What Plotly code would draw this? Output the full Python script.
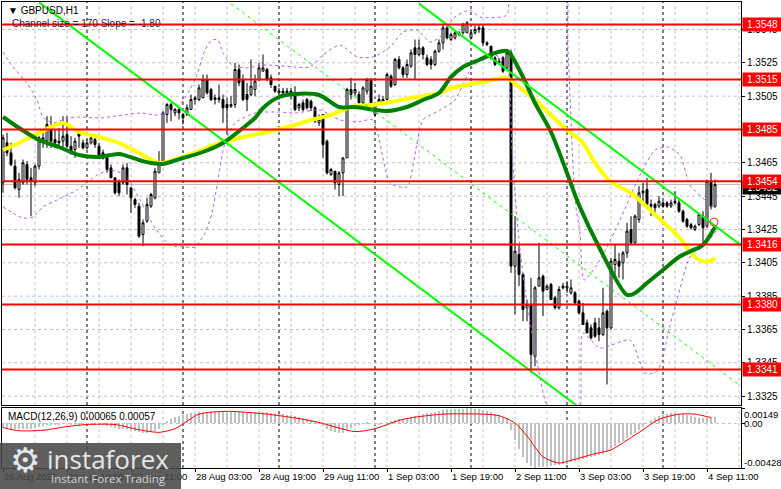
import plotly.graph_objects as go

# ---------------- data ----------------
bar_index = list(range(179))  # hourly bars from 26 Aug 03:00 to 4 Sep 13:00

opens = [1.3453, 1.3477, 1.3471, 1.3463, 1.3449, 1.3453, 1.3464, 1.3456, 1.3453, 1.3463,
 1.3478, 1.3478, 1.3487, 1.3479, 1.3477, 1.3478, 1.3482, 1.3475, 1.3473, 1.3483,
 1.3477, 1.3474, 1.3477, 1.3479, 1.3475, 1.3471, 1.3468, 1.3462, 1.3456, 1.3454,
 1.3453, 1.3462, 1.3450, 1.3443, 1.3439, 1.3422, 1.3430, 1.3439, 1.3444, 1.3459,
 1.3466, 1.3494, 1.3500, 1.3495, 1.3497, 1.3494, 1.3494, 1.3497, 1.3503, 1.3503,
 1.3504, 1.3515, 1.3509, 1.3504, 1.3504, 1.3503, 1.3500, 1.3499, 1.3500, 1.3521,
 1.3515, 1.3506, 1.3506, 1.3509, 1.3515, 1.3520, 1.3521, 1.3516, 1.3511, 1.3507,
 1.3508, 1.3507, 1.3508, 1.3507, 1.3498, 1.3501, 1.3503, 1.3502, 1.3498, 1.3489,
 1.3494, 1.3478, 1.3458, 1.3460, 1.3452, 1.3459, 1.3468, 1.3509, 1.3507, 1.3506,
 1.3501, 1.3508, 1.3515, 1.3494, 1.3501, 1.3501, 1.3503, 1.3517, 1.3512, 1.3527,
 1.3522, 1.3518, 1.3523, 1.3534, 1.3530, 1.3534, 1.3528, 1.3527, 1.3524, 1.3532,
 1.3537, 1.3546, 1.3539, 1.3540, 1.3542, 1.3543, 1.3543, 1.3540, 1.3543, 1.3545,
 1.3546, 1.3536, 1.3535, 1.3528, 1.3525, 1.3528, 1.3522, 1.3531, 1.3403, 1.3410,
 1.3398, 1.3378, 1.3380, 1.3349, 1.3391, 1.3397, 1.3389, 1.3392, 1.3384, 1.3378,
 1.3390, 1.3390, 1.3387, 1.3387, 1.3382, 1.3375, 1.3369, 1.3366, 1.3369, 1.3366,
 1.3362, 1.3376, 1.3366, 1.3404, 1.3406, 1.3405, 1.3411, 1.3425, 1.3417, 1.3431,
 1.3447, 1.3449, 1.3439, 1.3440, 1.3439, 1.3441, 1.3441, 1.3439, 1.3442, 1.3441,
 1.3436, 1.3431, 1.3428, 1.3425, 1.3428, 1.3433, 1.3427, 1.3454, 1.3439]

highs = [1.3482, 1.3483, 1.3477, 1.3467, 1.3459, 1.3467, 1.3466, 1.3462, 1.3464, 1.3481,
 1.3483, 1.3493, 1.3493, 1.3485, 1.3486, 1.3493, 1.3493, 1.3481, 1.3480, 1.3485,
 1.3479, 1.3479, 1.3482, 1.3480, 1.3477, 1.3473, 1.3470, 1.3464, 1.3456, 1.3455,
 1.3464, 1.3465, 1.3450, 1.3444, 1.3441, 1.3431, 1.3444, 1.3447, 1.3462, 1.3472,
 1.3496, 1.3501, 1.3501, 1.3498, 1.3498, 1.3495, 1.3500, 1.3506, 1.3505, 1.3512,
 1.3518, 1.3518, 1.3510, 1.3506, 1.3512, 1.3506, 1.3504, 1.3505, 1.3525, 1.3524,
 1.3518, 1.3513, 1.3527, 1.3518, 1.3525, 1.3530, 1.3522, 1.3518, 1.3511, 1.3510,
 1.3510, 1.3510, 1.3510, 1.3511, 1.3501, 1.3503, 1.3504, 1.3503, 1.3499, 1.3494,
 1.3494, 1.3479, 1.3462, 1.3460, 1.3460, 1.3468, 1.3510, 1.3516, 1.3513, 1.3508,
 1.3511, 1.3516, 1.3516, 1.3501, 1.3506, 1.3505, 1.3519, 1.3518, 1.3528, 1.3529,
 1.3523, 1.3527, 1.3533, 1.3539, 1.3539, 1.3535, 1.3530, 1.3529, 1.3533, 1.3539,
 1.3548, 1.3547, 1.3543, 1.3544, 1.3544, 1.3549, 1.3550, 1.3545, 1.3548, 1.3548,
 1.3548, 1.3538, 1.3535, 1.3529, 1.3528, 1.3529, 1.3533, 1.3533, 1.3433, 1.3416,
 1.3399, 1.3383, 1.3396, 1.3391, 1.3417, 1.3398, 1.3392, 1.3393, 1.3385, 1.3391,
 1.3393, 1.3394, 1.3395, 1.3388, 1.3383, 1.3381, 1.3371, 1.3368, 1.3372, 1.3372,
 1.3390, 1.3377, 1.3408, 1.3416, 1.3411, 1.3412, 1.3429, 1.3433, 1.3434, 1.3451,
 1.3453, 1.3456, 1.3443, 1.3441, 1.3445, 1.3442, 1.3442, 1.3443, 1.3448, 1.3443,
 1.3437, 1.3432, 1.3429, 1.3428, 1.3435, 1.3436, 1.3455, 1.3459, 1.3455]

lows = [1.3447, 1.3469, 1.3463, 1.3449, 1.3444, 1.3452, 1.3452, 1.3433, 1.3451, 1.3461,
 1.3474, 1.3474, 1.3474, 1.3474, 1.3474, 1.3474, 1.3474, 1.3470, 1.3468, 1.3474,
 1.3473, 1.3473, 1.3476, 1.3474, 1.3468, 1.3467, 1.3459, 1.3456, 1.3446, 1.3445,
 1.3452, 1.3446, 1.3435, 1.3438, 1.3420, 1.3415, 1.3429, 1.3438, 1.3443, 1.3459,
 1.3465, 1.3489, 1.3490, 1.3493, 1.3491, 1.3488, 1.3493, 1.3497, 1.3500, 1.3502,
 1.3504, 1.3506, 1.3502, 1.3500, 1.3501, 1.3489, 1.3482, 1.3498, 1.3498, 1.3511,
 1.3502, 1.3496, 1.3505, 1.3505, 1.3514, 1.3520, 1.3514, 1.3510, 1.3507, 1.3503,
 1.3505, 1.3505, 1.3503, 1.3496, 1.3496, 1.3496, 1.3497, 1.3496, 1.3489, 1.3487,
 1.3468, 1.3458, 1.3457, 1.3449, 1.3445, 1.3445, 1.3468, 1.3503, 1.3505, 1.3501,
 1.3500, 1.3506, 1.3501, 1.3493, 1.3501, 1.3500, 1.3502, 1.3510, 1.3511, 1.3521,
 1.3516, 1.3516, 1.3522, 1.3515, 1.3529, 1.3527, 1.3523, 1.3521, 1.3523, 1.3531,
 1.3533, 1.3539, 1.3538, 1.3539, 1.3541, 1.3542, 1.3543, 1.3539, 1.3542, 1.3543,
 1.3535, 1.3535, 1.3527, 1.3523, 1.3524, 1.3519, 1.3521, 1.3399, 1.3374, 1.3391,
 1.3370, 1.3370, 1.3339, 1.3343, 1.3391, 1.3373, 1.3389, 1.3383, 1.3377, 1.3377,
 1.3389, 1.3387, 1.3386, 1.3380, 1.3374, 1.3368, 1.3363, 1.3359, 1.3360, 1.3358,
 1.3361, 1.3332, 1.3365, 1.3396, 1.3396, 1.3395, 1.3408, 1.3416, 1.3416, 1.3429,
 1.3441, 1.3440, 1.3433, 1.3433, 1.3438, 1.3438, 1.3438, 1.3438, 1.3440, 1.3435,
 1.3429, 1.3426, 1.3425, 1.3424, 1.3427, 1.3415, 1.3426, 1.3437, 1.3438]

closes = [1.3480, 1.3471, 1.3464, 1.3450, 1.3455, 1.3465, 1.3455, 1.3454, 1.3463, 1.3480,
 1.3480, 1.3488, 1.3478, 1.3477, 1.3478, 1.3481, 1.3475, 1.3471, 1.3478, 1.3481,
 1.3474, 1.3477, 1.3480, 1.3476, 1.3468, 1.3468, 1.3461, 1.3456, 1.3447, 1.3447,
 1.3462, 1.3452, 1.3444, 1.3440, 1.3421, 1.3429, 1.3440, 1.3446, 1.3460, 1.3465,
 1.3495, 1.3500, 1.3497, 1.3497, 1.3495, 1.3492, 1.3498, 1.3503, 1.3504, 1.3510,
 1.3515, 1.3507, 1.3503, 1.3503, 1.3503, 1.3498, 1.3498, 1.3500, 1.3521, 1.3513,
 1.3503, 1.3503, 1.3511, 1.3514, 1.3522, 1.3522, 1.3515, 1.3512, 1.3508, 1.3508,
 1.3507, 1.3508, 1.3507, 1.3497, 1.3500, 1.3497, 1.3498, 1.3498, 1.3490, 1.3491,
 1.3476, 1.3459, 1.3461, 1.3453, 1.3459, 1.3468, 1.3509, 1.3506, 1.3509, 1.3501,
 1.3510, 1.3515, 1.3501, 1.3500, 1.3503, 1.3503, 1.3518, 1.3511, 1.3527, 1.3522,
 1.3518, 1.3524, 1.3531, 1.3530, 1.3534, 1.3530, 1.3524, 1.3524, 1.3532, 1.3537,
 1.3546, 1.3540, 1.3542, 1.3543, 1.3543, 1.3548, 1.3549, 1.3543, 1.3545, 1.3546,
 1.3537, 1.3537, 1.3528, 1.3524, 1.3526, 1.3520, 1.3531, 1.3403, 1.3412, 1.3398,
 1.3377, 1.3380, 1.3350, 1.3390, 1.3396, 1.3388, 1.3391, 1.3383, 1.3378, 1.3389,
 1.3391, 1.3391, 1.3390, 1.3381, 1.3375, 1.3368, 1.3363, 1.3360, 1.3361, 1.3362,
 1.3375, 1.3366, 1.3406, 1.3407, 1.3403, 1.3411, 1.3424, 1.3417, 1.3433, 1.3447,
 1.3448, 1.3440, 1.3440, 1.3438, 1.3442, 1.3439, 1.3439, 1.3441, 1.3441, 1.3436,
 1.3430, 1.3427, 1.3426, 1.3427, 1.3434, 1.3426, 1.3454, 1.3439, 1.3452]

# moving averages (bar index, price)
ma_green_i = [0, 4, 9, 14, 19, 24, 29, 34, 37, 40, 45, 50, 55, 60, 63, 65, 69, 73, 79, 84, 88, 93, 96,
              101, 105, 109, 112, 115, 119, 123, 126, 127, 130, 133, 137, 141, 144, 149, 156, 158,
              161, 165, 169, 172, 175, 178]
ma_green_p = [1.34925, 1.34859, 1.34787, 1.34745, 1.34697, 1.34685, 1.34703, 1.34667, 1.34649, 1.34643,
              1.34679, 1.34715, 1.34769, 1.34859, 1.34919, 1.34979, 1.35045, 1.35063, 1.35057, 1.34985,
              1.34985, 1.34967, 1.34961, 1.34985, 1.35027, 1.35069, 1.35165, 1.35225, 1.35267, 1.35309,
              1.35321, 1.35297, 1.35165, 1.35009, 1.34835, 1.34589, 1.34397, 1.34145, 1.33857, 1.33869,
              1.33929, 1.34007, 1.34085, 1.34121, 1.34157, 1.34265]

ma_yellow_i = [0, 4, 9, 15, 19, 24, 29, 34, 39, 45, 55, 60, 65, 73, 77, 82, 87, 92, 97, 102, 109, 112,
               116, 120, 126, 129, 133, 141, 145, 148, 152, 157, 161, 165, 169, 173, 176, 178]
ma_yellow_p = [1.34727, 1.34769, 1.34829, 1.34889, 1.34835, 1.34805, 1.34769, 1.34709, 1.34649, 1.34685,
               1.34775, 1.34805, 1.34829, 1.34877, 1.34907, 1.34937, 1.34985, 1.34997, 1.35015, 1.35039,
               1.35069, 1.35099, 1.35117, 1.35135, 1.35159, 1.35105, 1.35027, 1.34847, 1.34769, 1.34649,
               1.34535, 1.34469, 1.34385, 1.34295, 1.34205, 1.34085, 1.34055, 1.34079]

band_up_i = [0, 2.5, 6, 8.5, 10, 12.5, 16, 19.25, 24.25, 30, 34.25, 38.75, 43.75, 48, 50.5, 52.25, 53.75,
             55, 57.25, 60.5, 65.5, 73, 76.75, 80, 84.25, 88.5, 92.5, 96.75, 100, 103.5, 106.75, 109.25,
             113, 116.75, 119.25, 126, 126.75, 140, 141.25, 143, 144.25, 145.25, 149.25, 154.25, 159.25,
             163, 166.25, 169.25, 171.75, 175.5, 178.5]
band_up_p = [1.35315, 1.35225, 1.35129, 1.35027, 1.34925, 1.34889, 1.34919, 1.34925, 1.34919, 1.34937,
             1.34949, 1.34937, 1.34985, 1.35147, 1.35327, 1.35387, 1.35387, 1.35309, 1.35237, 1.35219,
             1.35237, 1.35225, 1.35225, 1.35297, 1.35357, 1.35285, 1.35285, 1.35345, 1.35435, 1.35447,
             1.35375, 1.35405, 1.35525, 1.35567, 1.35525, 1.35537, 1.35807, 1.35807, 1.35327, 1.34427,
             1.34229, 1.33947, 1.34067, 1.34307, 1.34577, 1.34727, 1.34745, 1.34697, 1.34517, 1.34427,
             1.34367]

band_lo_i = [0, 2.5, 5, 7.5, 10, 13.5, 18.5, 23.5, 26.75, 30.5, 34.25, 38, 41.75, 45.5, 48, 50.5, 52.25,
             53.75, 55.5, 58, 63, 68.75, 73, 79.25, 84.25, 88.5, 92.5, 96.75, 101, 103.5, 105, 109.25,
             113, 116.75, 119.25, 123, 126, 127.25, 128.75, 130.5, 133, 135.5, 138, 143.75, 145, 149.25,
             156.75, 160.5, 163, 164.75, 166.25, 168.5, 171.75, 175.5, 178.5]
band_lo_p = [1.34385, 1.34349, 1.34319, 1.34325, 1.34385, 1.34427, 1.34487, 1.34577, 1.34607, 1.34577,
             1.34427, 1.34259, 1.34157, 1.34145, 1.34145, 1.34229, 1.34349, 1.34547, 1.34769, 1.34889,
             1.34949, 1.34955, 1.34949, 1.34967, 1.34907, 1.34895, 1.34907, 1.34529, 1.34505, 1.34769,
             1.34907, 1.34967, 1.35027, 1.35207, 1.35267, 1.35297, 1.35237, 1.34727, 1.34247, 1.33887,
             1.33527, 1.33227, 1.33107, 1.33107, 1.33629, 1.33539, 1.33587, 1.33389, 1.33389, 1.33455,
             1.33629, 1.33827, 1.34085, 1.34157, 1.34247]

# regression channel (two anchor points each)
chan_upper_i = [104, 185]
chan_upper_p = [1.35605, 1.34147]
chan_mid_i = [57, 185]
chan_mid_p = [1.35605, 1.33301]
chan_lower_i = [9, 145]
chan_lower_p = [1.35613, 1.33165]

# horizontal levels
levels = [1.3548, 1.3515, 1.3485, 1.3454, 1.3416, 1.3380, 1.3341]
bid_price = 1.3452
price_ticks = [1.3325, 1.3345, 1.3365, 1.3385, 1.3405, 1.3425, 1.3445, 1.3465, 1.3485, 1.3505, 1.3525, 1.3545]

# MACD (x 1e-5)
macd_hist_e5 = [-40, -45, -50, -55, -55, -55, -50, -50, -45, -35,
                -25, -15, -10, -5, -5, 0, 0, -5, -5, -5,
                -5, -5, -5, -5, -10, -15, -20, -30, -40, -50,
                -50, -55, -65, -75, -85, -90, -90, -85, -70, -50,
                -10, 20, 40, 60, 75, 85, 95, 100, 105, 110,
                115, 115, 115, 112, 110, 108, 105, 110, 115, 115,
                110, 105, 105, 110, 115, 115, 110, 105, 100, 95,
                90, 85, 80, 70, 60, 50, 40, 30, 20, 10,
                -20, -50, -70, -85, -95, -90, -60, -40, -20, -10,
                0, 5, 0, -5, -5, 0, 10, 20, 30, 40,
                45, 55, 65, 75, 85, 95, 100, 105, 110, 120,
                130, 135, 140, 140, 140, 140, 145, 145, 140, 135,
                130, 120, 110, 95, 80, 60, 50, -60, -160, -250,
                -320, -380, -410, -428, -420, -415, -410, -405, -400, -395,
                -390, -385, -375, -365, -355, -345, -335, -325, -315, -305,
                -290, -270, -240, -215, -190, -165, -140, -115, -90, -60,
                -30, 0, 30, 50, 70, 85, 95, 100, 100, 95,
                90, 80, 70, 60, 55, 50, 55, 60, 65]
macd_sig_i = [0, 4, 10, 16, 21, 28, 34, 39, 43, 49, 56, 66, 74, 79, 88, 93, 99, 102, 110, 120, 124, 128,
              131, 135, 139, 142, 148, 152, 156, 160, 164, 169, 173, 177]
macd_sig_e5 = [-40, -70, -65, -30, -10, -10, -60, -85, -50, 90, 117, 90, 47, 10, -78, -50, 30, 55, 90, 90,
               75, 5, -120, -320, -380, -355, -290, -255, -160, -60, 40, 90, 90, 57]

time_tick_i = [0, 16, 32, 48, 64, 80, 96, 112, 128, 144, 160, 176]
time_tick_labels = ["26 Aug 2025", "26 Aug 19:00", "27 Aug 11:00", "28 Aug 03:00", "28 Aug 19:00",
                    "29 Aug 11:00", "1 Sep 03:00", "1 Sep 19:00", "2 Sep 11:00", "3 Sep 03:00",
                    "3 Sep 19:00", "4 Sep 11:00"]
day_sep_i = [21, 45, 69, 93, 117, 141, 165]

# ---------------- layout geometry ----------------
W, H = 781, 489
ML, MR, MT, MB = 2, 40, 2, 21
PW, PH = W - ML - MR, H - MT - MB

def pxx(px):
    return (px - ML) / PW

def pxy(py):
    return (H - MB - py) / PH

FONT = "Liberation Sans, Arial, sans-serif"
XR = [-0.25, 184.5]
YR = [1.33197, 1.35615]
Y2R = [-0.00428, 0.00149]

fig = go.Figure()

# candles
fig.add_trace(go.Candlestick(
    x=bar_index, open=opens, high=highs, low=lows, close=closes,
    increasing=dict(line=dict(color="black", width=1), fillcolor="white"),
    decreasing=dict(line=dict(color="black", width=1), fillcolor="black"),
    whiskerwidth=0, xaxis="x", yaxis="y", hoverinfo="skip"))

band_color = "#B45EE8"
fig.add_trace(go.Scatter(x=band_up_i, y=band_up_p, mode="lines", line=dict(color=band_color, width=1, dash="3px,3px", shape="spline", smoothing=0.6), xaxis="x", yaxis="y"))
fig.add_trace(go.Scatter(x=band_lo_i, y=band_lo_p, mode="lines", line=dict(color=band_color, width=1, dash="3px,3px", shape="spline", smoothing=0.6), xaxis="x", yaxis="y"))
fig.add_trace(go.Scatter(x=ma_yellow_i, y=ma_yellow_p, mode="lines", line=dict(color="#FFFF00", width=4, shape="spline", smoothing=0.8), xaxis="x", yaxis="y"))
fig.add_trace(go.Scatter(x=ma_green_i, y=ma_green_p, mode="lines", line=dict(color="#008000", width=4, shape="spline", smoothing=0.8), xaxis="x", yaxis="y"))

# channel lines
fig.add_trace(go.Scatter(x=chan_upper_i, y=chan_upper_p, mode="lines", line=dict(color="#00FF00", width=2), xaxis="x", yaxis="y"))
fig.add_trace(go.Scatter(x=chan_lower_i, y=chan_lower_p, mode="lines", line=dict(color="#00FF00", width=2), xaxis="x", yaxis="y"))
fig.add_trace(go.Scatter(x=chan_mid_i, y=chan_mid_p, mode="lines", line=dict(color="#00FF00", width=1, dash="3px,4px"), xaxis="x", yaxis="y"))

# cross marker
fig.add_trace(go.Scatter(x=[177.75], y=[1.34295], mode="markers", marker=dict(symbol="circle-open", size=8, color="#FF3030", line=dict(width=1)), xaxis="x", yaxis="y"))

# MACD
fig.add_trace(go.Bar(x=bar_index, y=[v * 1e-5 for v in macd_hist_e5], marker=dict(color="#C0C0C0", line=dict(width=0)), width=0.62, xaxis="x2", yaxis="y2"))
fig.add_trace(go.Scatter(x=macd_sig_i, y=[v * 1e-5 for v in macd_sig_e5], mode="lines", line=dict(color="#FF0000", width=1, shape="spline", smoothing=0.7), xaxis="x2", yaxis="y2"))

shapes = []
grid = dict(color="#C0C0C0", width=1, dash="3px,3px")
for v in price_ticks:
    shapes.append(dict(type="line", xref="x", yref="y", x0=XR[0], x1=XR[1], y0=v, y1=v, line=grid, layer="below"))
for i in range(8, 185, 8):
    shapes.append(dict(type="line", xref="x", yref="y domain", x0=i, x1=i, y0=0, y1=1, line=grid, layer="below"))
    shapes.append(dict(type="line", xref="x2", yref="y2 domain", x0=i, x1=i, y0=0, y1=1, line=grid, layer="below"))
shapes.append(dict(type="line", xref="x2", yref="y2", x0=XR[0], x1=XR[1], y0=0, y1=0, line=grid, layer="below"))
for i in day_sep_i:
    sep = dict(color="black", width=1, dash="3px,3px")
    shapes.append(dict(type="line", xref="x", yref="y domain", x0=i, x1=i, y0=0, y1=1, line=sep, layer="below"))
    shapes.append(dict(type="line", xref="x2", yref="y2 domain", x0=i, x1=i, y0=0, y1=1, line=sep, layer="below"))
shapes.append(dict(type="line", xref="x", yref="y", x0=XR[0], x1=XR[1], y0=bid_price, y1=bid_price, line=dict(color="#C0C0C0", width=1), layer="below"))
for v in levels:
    shapes.append(dict(type="line", xref="x", yref="y", x0=XR[0], x1=XR[1], y0=v, y1=v, line=dict(color="#FF0000", width=2), layer="above"))
# logo box
shapes.append(dict(type="rect", xref="paper", yref="paper", x0=pxx(0), x1=pxx(181), y0=pxy(489), y1=pxy(443), fillcolor="rgba(72,72,72,0.88)", line=dict(width=0), layer="above"))

annotations = []
annotations.append(dict(xref="paper", yref="y", x=1, y=bid_price, text="1.3452", showarrow=False, xanchor="left", yanchor="middle", xshift=1, yshift=-3, bgcolor="black", width=37, height=11, font=dict(family=FONT, size=10, color="white"), borderpad=1))
for v in levels:
    annotations.append(dict(xref="paper", yref="y", x=1, y=v, text=f"{v:.4f}", showarrow=False, xanchor="left", yanchor="middle", xshift=1, bgcolor="#FF0000", width=37, height=11, font=dict(family=FONT, size=10, color="white"), borderpad=1))

# MACD axis labels
for val, txt, sh in [(0.00149, "0.00149", -6), (0.0, "0.00", 0), (-0.00428, "-0.00428", 6)]:
    annotations.append(dict(xref="paper", yref="y2", x=1, y=val, text=txt, showarrow=False, xanchor="left", yanchor="middle", xshift=1, yshift=sh, font=dict(family=FONT, size=9.5, color="black")))

annotations.append(dict(xref="paper", yref="paper", x=pxx(6), y=pxy(10), text="▼ GBPUSD,H1", showarrow=False, xanchor="left", yanchor="middle", font=dict(family=FONT, size=10, color="black")))
annotations.append(dict(xref="paper", yref="paper", x=pxx(10), y=pxy(23), text="Channel size = 170 Slope = -1.80", showarrow=False, xanchor="left", yanchor="middle", font=dict(family=FONT, size=10, color="#1E1E3C")))
annotations.append(dict(xref="paper", yref="paper", x=pxx(6), y=pxy(416), text="MACD(12,26,9) 0.00065 0.00057", showarrow=False, xanchor="left", yanchor="middle", font=dict(family=FONT, size=10, color="black")))

# logo texts
annotations.append(dict(xref="paper", yref="paper", x=pxx(25), y=pxy(460), text="⚙", showarrow=False, xanchor="center", yanchor="middle", font=dict(family="DejaVu Sans", size=34, color="#E6E6E6")))
annotations.append(dict(xref="paper", yref="paper", x=pxx(45), y=pxy(459), text="instaforex", showarrow=False, xanchor="left", yanchor="middle", font=dict(family="Open Sans, sans-serif", size=26, color="#E6E6E6")))
annotations.append(dict(xref="paper", yref="paper", x=pxx(49), y=pxy(479), text="Instant Forex Trading", showarrow=False, xanchor="left", yanchor="middle", font=dict(family="Open Sans, sans-serif", size=11.5, color="#D8D8D8")))

fig.update_layout(
    width=W, height=H, margin=dict(l=ML, r=MR, t=MT, b=MB),
    paper_bgcolor="white", plot_bgcolor="white", showlegend=False,
    shapes=shapes, annotations=annotations, hovermode=False,
    xaxis=dict(domain=[0, 1], range=XR, anchor="y", showticklabels=False, showgrid=False, zeroline=False,
               showline=True, mirror=True, linecolor="black", linewidth=1, rangeslider=dict(visible=False), fixedrange=True),
    yaxis=dict(domain=[pxy(405), 1], range=YR, anchor="x", side="right", tickvals=price_ticks,
               ticktext=[f"{v:.4f}" for v in price_ticks], ticks="outside", ticklen=3, tickcolor="black",
               tickfont=dict(family=FONT, size=10, color="black"), showgrid=False, zeroline=False,
               showline=True, mirror=True, linecolor="black", linewidth=1, automargin=False),
    xaxis2=dict(domain=[0, 1], range=XR, anchor="y2", tickvals=time_tick_i, ticktext=time_tick_labels,
                ticks="outside", ticklen=3, tickcolor="black", ticklabelposition="outside right", tickangle=0,
                tickfont=dict(family=FONT, size=9.5, color="black"), showgrid=False, zeroline=False,
                showline=True, mirror=True, linecolor="black", linewidth=1, automargin=False),
    yaxis2=dict(domain=[0, pxy(408)], range=Y2R, anchor="x2", side="right", tickvals=[0.00149, 0, -0.00428],
                showticklabels=False, ticks="outside", ticklen=3, tickcolor="black", showgrid=False,
                zeroline=False, showline=True, mirror=True, linecolor="black", linewidth=1, automargin=False),
    bargap=0,
)

fig.write_html("out.html", config={"displayModeBar": False},
               post_script="document.body.style.margin='0';document.body.style.overflow='hidden';")
